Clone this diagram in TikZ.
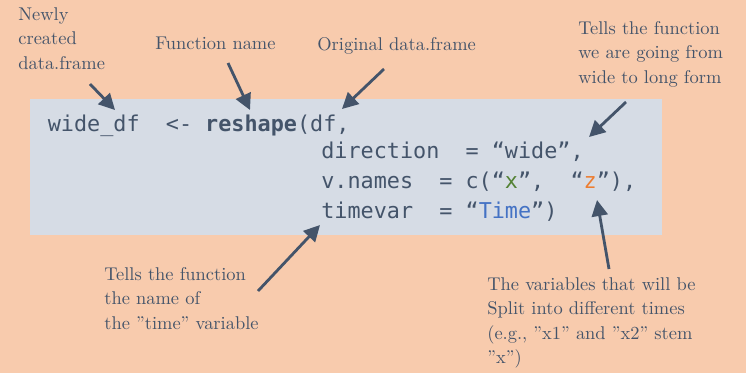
\documentclass[tikz,border=0pt]{standalone}
\usepackage{fontspec}
\setmonofont{DejaVu Sans Mono}
\usetikzlibrary{arrows.meta}
\definecolor{peach}{HTML}{F8CBAD}
\definecolor{codebg}{HTML}{D6DCE5}
\definecolor{slate}{HTML}{44546A}
\definecolor{xgreen}{HTML}{548235}
\definecolor{zorange}{HTML}{ED7D31}
\definecolor{tblue}{HTML}{4472C4}
\tikzset{
  note/.style={anchor=north west, align=left, inner sep=0, text=slate,
    font=\fontsize{10.5}{13.9}\selectfont},
  codeline/.style={anchor=base west, inner sep=0, text=slate,
    font=\fontsize{12.4}{15}\ttfamily},
  pointer/.style={-{Triangle[length=3.2mm,width=3.2mm]}, slate, line width=1.6pt}
}
\begin{document}
\begin{tikzpicture}[x=0.02cm,y=-0.02cm]
    \fill[peach] (0,0) rectangle (746,373);
    \fill[codebg] (30,99) rectangle (662,235);
    \node[codeline] (line1) at (47.5,131) {wide\_df~~<-~\textbf{reshape}(df,};
    \node[codeline] (line2) at (321,158) {direction~~=~“wide”,};
    \node[codeline] (line3) at (321,188)
      {v.names~~=~c(“\textcolor{xgreen}{x}”,~~“\textcolor{zorange}{z}”),};
    \node[codeline] (line4) at (321,218) {timevar~~=~“\textcolor{tblue}{Time}”)};
    \node[note] (newly) at (18,7) {Newly\\created\\data.frame};
    \node[note] (fname) at (155,37) {Function name};
    \node[note] (orig) at (317,37) {Original data.frame};
    \node[note] (direct) at (578,21) {Tells the function\\we are going from\\wide to long form};
    \node[note] (timelbl) at (104,267) {Tells the function\\the name of\\the ”time” variable};
    \node[note] (varslbl) at (487,277) {The variables that will be\\Split into different times\\(e.g., ”x1” and ”x2” stem\\”x”)};
    \coordinate (newlyFrom) at (90,84);    \coordinate (newlyTo) at (115,110);
    \coordinate (fnameFrom) at (228,63);   \coordinate (fnameTo) at (250,110);
    \coordinate (origFrom) at (384,69);    \coordinate (origTo) at (342,109);
    \coordinate (directFrom) at (626,102); \coordinate (directTo) at (589,137);
    \coordinate (timeFrom) at (258,291);   \coordinate (timeTo) at (320,225);
    \coordinate (varsFrom) at (609,269);   \coordinate (varsTo) at (597,200);
    \foreach \a in {newly,fname,orig,direct,time,vars}{
      \draw[pointer] (\a From) -- (\a To);}
  \end{tikzpicture}
\end{document}
